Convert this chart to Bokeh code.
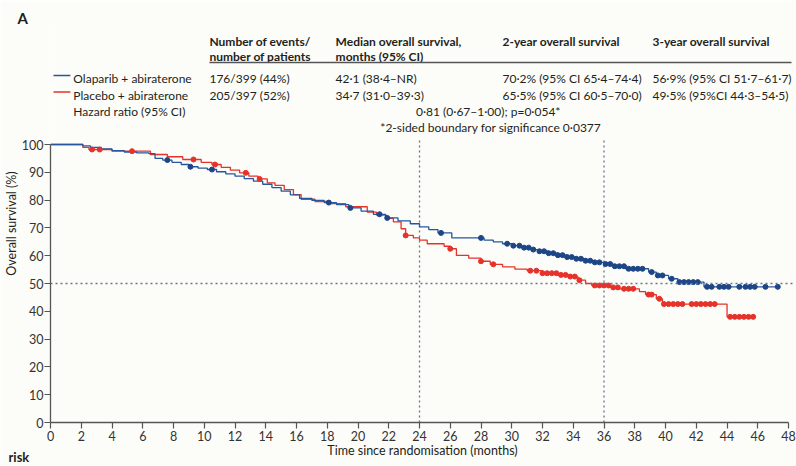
import numpy as np
from bokeh.plotting import figure
from bokeh.models import Range1d, Span, FixedTicker, Title
from bokeh.core.properties import value
from bokeh.embed import file_html
from bokeh.resources import INLINE

# ---------------- data ----------------
blue_t = [0, 2.1, 2.6, 3.3, 4.0, 4.8, 5.6, 6.4, 6.8, 7.3, 7.9, 8.5, 9.0, 9.6, 10.2, 10.8, 11.4, 12.0, 12.6, 13.2,
          13.8, 14.4, 15.0, 15.6, 16.2, 17.0, 17.8, 18.6, 19.4, 20.2, 21.0, 21.8, 22.6, 23.4, 24.0, 24.6, 25.2, 26.1,
          28.2, 28.8, 29.4, 30.0, 30.6, 31.2, 31.8, 32.4, 33.0, 33.6, 34.2, 34.8, 35.4, 36.0, 36.6, 37.4, 38.9, 39.4,
          40.2, 40.8, 42.5, 47.3]
blue_s = [100, 99.5, 99.0, 98.4, 97.8, 97.3, 97.0, 96.7, 95.0, 94.4, 93.6, 92.8, 92.0, 91.5, 91.0, 90.2, 89.4, 88.6,
          87.7, 86.8, 85.7, 84.5, 83.2, 81.9, 80.6, 79.9, 79.1, 78.4, 77.2, 76.0, 74.9, 73.6, 72.5, 71.5, 70.4, 69.4,
          68.2, 66.4, 65.6, 65.0, 64.3, 63.6, 62.9, 62.2, 61.6, 60.9, 60.2, 59.5, 58.9, 58.2, 57.6, 57.0, 56.2, 55.3,
          54.1, 52.9, 51.7, 50.5, 48.8, 48.8]
blue_censor_t = [7.6, 9.1, 10.5, 18.1, 19.5, 21.4, 21.9, 25.4, 28.0, 29.7, 30.1, 30.5, 30.8, 31.1, 31.4, 31.8, 32.1,
                 32.4, 32.7, 33.0, 33.3, 33.6, 33.9, 34.2, 34.5, 34.8, 35.1, 35.4, 35.7, 36.1, 36.4, 36.7, 37.0, 37.3,
                 37.6, 37.9, 38.2, 38.5, 39.1, 39.5, 39.8, 40.4, 40.9, 41.2, 41.5, 41.8, 42.1, 42.7, 43.0, 43.5, 43.8,
                 44.1, 44.8, 45.2, 45.5, 45.8, 46.5, 47.3]

red_t = [0, 2.1, 2.5, 4.0, 6.5, 7.6, 8.6, 9.8, 10.5, 11.1, 11.7, 12.3, 12.9, 13.5, 14.1, 14.6, 15.2, 15.8, 16.3, 17.2,
         18.2, 19.2, 20.6, 21.2, 21.8, 22.3, 22.8, 23.1, 23.6, 24.0, 24.5, 25.6, 26.0, 26.4, 27.2, 28.0, 28.6, 29.4,
         30.2, 31.0, 32.0, 33.0, 33.8, 34.3, 34.8, 35.2, 36.4, 37.0, 38.3, 38.7, 39.4, 39.8, 44.0, 45.7]
red_s = [100, 99.0, 98.2, 97.6, 96.4, 95.6, 94.6, 93.6, 92.8, 91.8, 90.8, 89.8, 88.6, 87.6, 86.2, 85.3, 83.8, 82.0,
         80.3, 79.5, 78.7, 77.6, 75.7, 74.6, 73.4, 72.2, 69.7, 67.3, 66.4, 65.6, 64.3, 63.4, 62.5, 60.1, 59.1, 58.0,
         56.9, 56.0, 55.2, 54.6, 53.7, 53.1, 52.5, 51.2, 50.0, 49.3, 48.6, 48.1, 47.1, 46.0, 44.5, 42.6, 38.0, 38.0]
red_censor_t = [2.7, 3.2, 5.3, 9.3, 10.7, 12.7, 13.6, 23.1, 26.0, 28.0, 28.8, 31.2, 31.6, 32.0, 32.3, 32.6, 32.9, 33.2,
                33.5, 33.8, 34.1, 34.4, 35.4, 35.7, 36.0, 36.3, 36.6, 36.9, 37.3, 37.6, 37.9, 38.9, 39.1, 39.6, 39.9,
                40.2, 40.5, 40.8, 41.1, 41.7, 42.0, 42.3, 42.6, 42.9, 43.2, 44.2, 44.5, 44.8, 45.1, 45.4, 45.7]

x_ticks = list(range(0, 49, 2))
y_ticks = list(range(0, 101, 10))
landmarks = [24, 36]
median_ref = 50

headers = [["Number of events/", "number of patients"],
           ["Median overall survival,", "months (95% CI)"],
           ["2-year overall survival", ""],
           ["3-year overall survival", ""]]
row_olaparib = ["176/399 (44%)", "42·1 (38·4–NR)", "70·2% (95% CI 65·4–74·4)", "56·9% (95% CI 51·7–61·7)"]
row_placebo = ["205/397 (52%)", "34·7 (31·0–39·3)", "65·5% (95% CI 60·5–70·0)", "49·5% (95%CI 44·3–54·5)"]
series_names = ["Olaparib + abiraterone", "Placebo + abiraterone"]
hr_label = "Hazard ratio (95% CI)"
hr_text = "0·81 (0·67–1·00); p=0·054*"
footnote = "*2-sided boundary for significance 0·0377"

BLUE = "#27569e"
BLUE_M = "#1d4687"
RED = "#e5332b"
BG = "#fcfcf8"
TXT = "#231f20"
FONT = "Lato"

# ---------------- geometry (canvas pixels) ----------------
W, H = 796, 466
B_LEFT, B_RIGHT, B_TOP, B_BOTTOM = 45, 2, 24, 44
X_AXIS_END = 48
PPX = (788 - B_LEFT) / X_AXIS_END          # axis runs from x=45 to x=788
PPU = 2.78                                  # pixels per % survival
FX0 = B_LEFT
FY1 = H - B_BOTTOM
X_END = (W - B_LEFT - B_RIGHT) / PPX
Y_TOP = (H - B_TOP - B_BOTTOM) / PPU


def hx(px):
    return (px - FX0) / PPX


def hy(py):
    return (FY1 - py) / PPU


p = figure(width=W, height=H, x_range=Range1d(0, X_END), y_range=Range1d(0, Y_TOP),
           toolbar_location=None, output_backend="svg",
           min_border_left=B_LEFT, min_border_right=B_RIGHT, min_border_top=B_TOP, min_border_bottom=B_BOTTOM,
           outline_line_color=None, background_fill_color=BG, border_fill_color=BG)
p.grid.visible = False

# panel label "A"
p.add_layout(Title(text="A", align="left", offset=-33, standoff=-4, text_font=FONT, text_font_style="bold",
                   text_font_size="15px", text_color=TXT), "above")

# axes
for ax in (p.xaxis[0], p.yaxis[0]):
    ax.axis_line_color = "#555555"
    ax.axis_line_width = 1.3
    ax.major_tick_line_color = "#555555"
    ax.major_tick_line_width = 1.2
    ax.major_tick_out = 6
    ax.major_tick_in = 0
    ax.minor_tick_line_color = None
    ax.major_label_text_font = FONT
    ax.major_label_text_font_size = "12.5px"
    ax.major_label_text_color = "#333333"
    ax.axis_label_text_font = FONT
    ax.axis_label_text_font_size = "12.5px"
    ax.axis_label_text_font_style = "normal"
    ax.axis_label_text_color = TXT
p.xaxis[0].ticker = FixedTicker(ticks=x_ticks)
p.yaxis[0].ticker = FixedTicker(ticks=y_ticks)
p.xaxis[0].bounds = (0, X_AXIS_END)
p.yaxis[0].bounds = (0, 100)
p.xaxis[0].major_label_standoff = 2
p.yaxis[0].major_label_standoff = 1
p.xaxis[0].axis_label = "Time since randomisation (months)"
p.xaxis[0].axis_label_standoff = -1
p.yaxis[0].axis_label = "Overall survival (%)"
p.yaxis[0].axis_label_standoff = 0

# cropped "Number at risk" caption
p.add_layout(Title(text="risk", align="left", offset=-42, standoff=-24, vertical_align="top",
                   text_font=FONT, text_font_style="bold", text_font_size="13px", text_color=TXT), "below")

# reference lines
p.segment(x0=landmarks, y0=[0] * len(landmarks), x1=landmarks, y1=[101.4] * len(landmarks),
          line_color="#6a7686", line_dash="2 3", line_width=1.3)
p.add_layout(Span(location=median_ref, dimension="width", line_color="#6a7686",
                  line_dash="2 3", line_width=1.3))

# KM curves
p.step(red_t, red_s, mode="after", line_color=RED, line_width=1.3)
p.step(blue_t, blue_s, mode="after", line_color=BLUE, line_width=1.3)


def at(ts, ss, tc):
    idx = np.searchsorted(np.array(ts), np.array(tc), side="right") - 1
    return list(np.array(ss)[idx])


p.scatter(red_censor_t, at(red_t, red_s, red_censor_t), size=5, color=RED)
p.scatter(blue_censor_t, at(blue_t, blue_s, blue_censor_t), size=5, color=BLUE_M)

# ---------------- header table (inside frame, above 100 %) ----------------
col_px = [205, 332, 500, 651]
hxs, hys, hts = [], [], []
for cx, (l1, l2) in zip(col_px, headers):
    hxs += [hx(cx), hx(cx)]
    hys += [hy(40.5), hy(55.5)]
    hts += [l1, l2]
p.text(x=hxs, y=hys, text=hts, text_font=value(FONT), text_font_style="bold",
       text_font_size="12px", text_color=TXT, text_baseline="alphabetic")
p.segment(x0=[hx(205)], y0=[hy(62)], x1=[hx(791)], y1=[hy(62)], line_color="#555555", line_width=1.3)

rxs = [hx(c) for c in col_px] * 2 + [hx(68)] * 3 + [hx(413), hx(377)]
rys = [hy(78)] * 4 + [hy(94.5)] * 4 + [hy(78), hy(94.5), hy(111), hy(111), hy(126.5)]
rts = row_olaparib + row_placebo + series_names + [hr_label, hr_text, footnote]
p.text(x=rxs, y=rys, text=rts, text_font=value(FONT), text_font_size="12px",
       text_color=TXT, text_baseline="alphabetic")
p.segment(x0=[hx(48)] * 2, y0=[hy(75), hy(91.5)], x1=[hx(65)] * 2, y1=[hy(75), hy(91.5)],
          line_color=[BLUE, RED], line_width=1.5)

open("out.html", "w").write(file_html(p, INLINE))
